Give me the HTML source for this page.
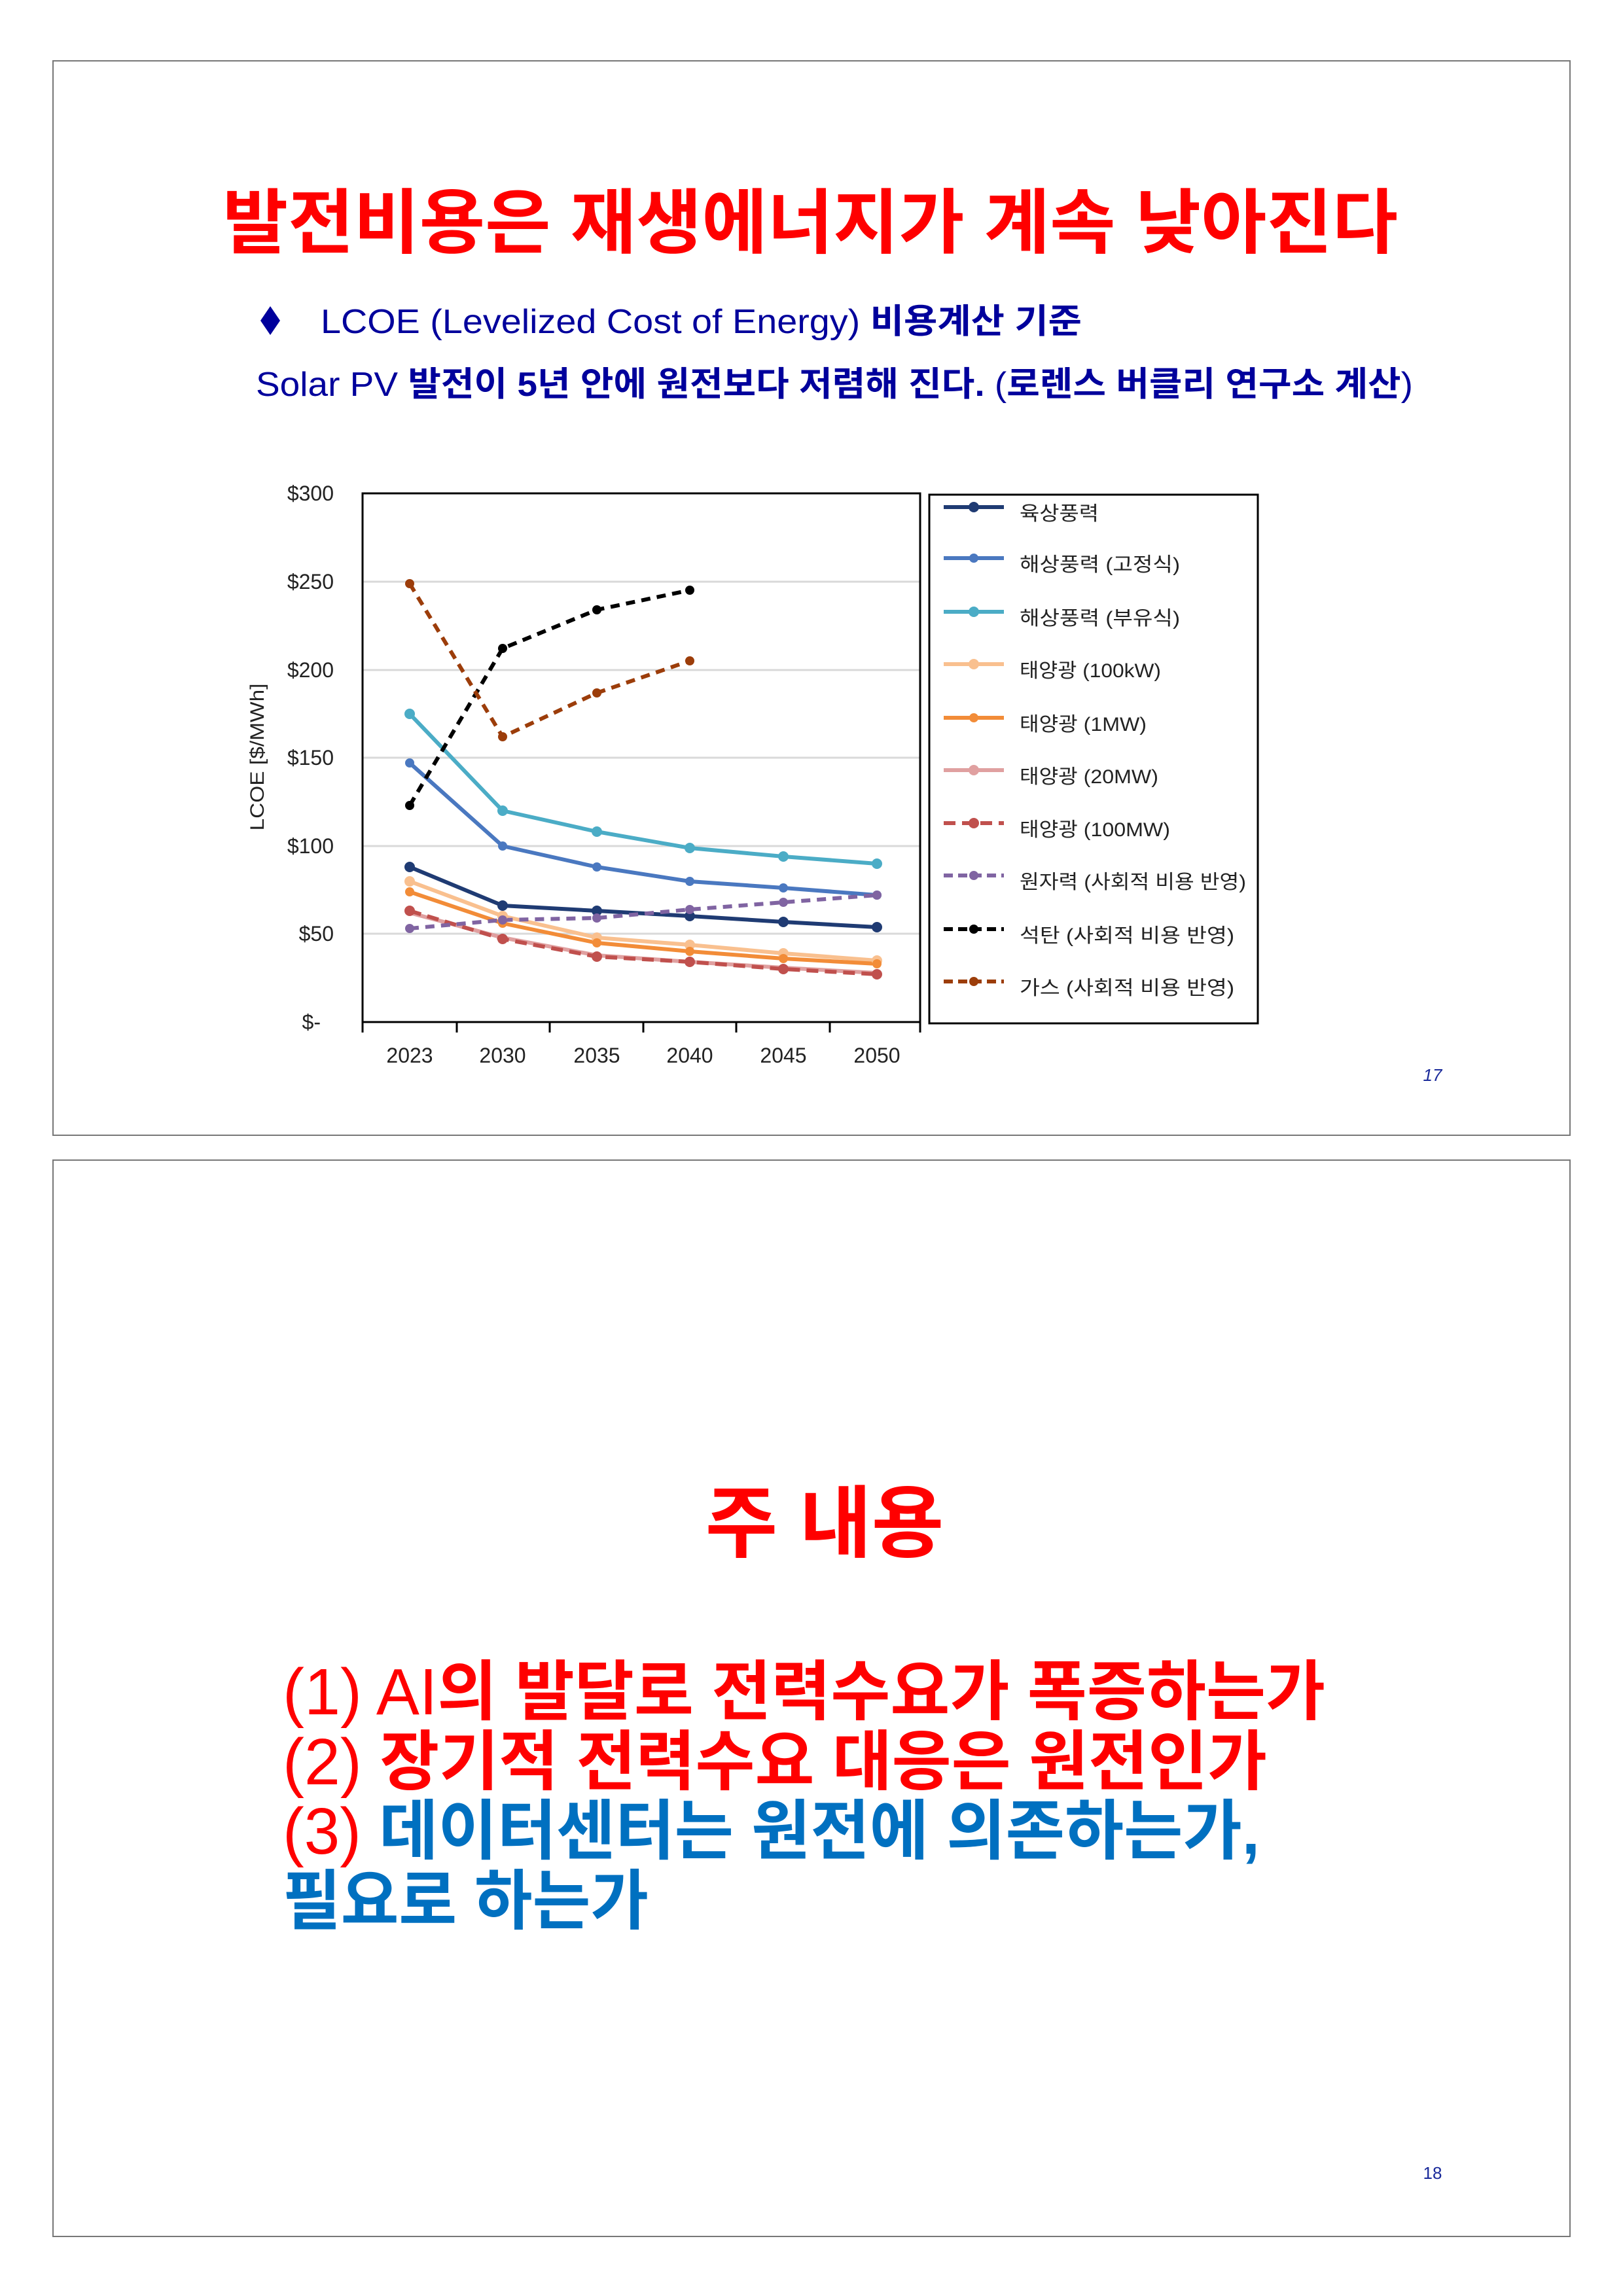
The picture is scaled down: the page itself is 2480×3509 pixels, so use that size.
<!DOCTYPE html>
<html><head><meta charset="utf-8"><style>
html,body{margin:0;padding:0;background:#fff}
svg{display:block}
text{font-family:"Liberation Sans","Noto Sans CJK KR",sans-serif}
</style></head><body>
<svg width="2480" height="3509" viewBox="0 0 2480 3509" xmlns="http://www.w3.org/2000/svg">
<rect width="2480" height="3509" fill="#fff"/>
<rect x="81" y="93" width="2318" height="1642" fill="none" stroke="#777" stroke-width="2"/>
<rect x="81" y="1773" width="2318" height="1645" fill="none" stroke="#777" stroke-width="2"/>

<text x="1238" y="378" text-anchor="middle" font-size="108" font-weight="bold" fill="#f00" textLength="1796" lengthAdjust="spacingAndGlyphs">발전비용은 재생에너지가 계속 낮아진다</text>

<polygon points="413,468 428,490 413,512 398,490" fill="#00009c"/>
<text x="490" y="509" font-size="52" fill="#00009c" textLength="1163" lengthAdjust="spacingAndGlyphs">LCOE (Levelized Cost of Energy) <tspan font-weight="bold">비용계산 기준</tspan></text>
<text x="391" y="605" font-size="52" fill="#00009c" textLength="1768" lengthAdjust="spacingAndGlyphs">Solar PV <tspan font-weight="bold">발전이 5년 안에 원전보다 저렴해 진다.</tspan> (<tspan font-weight="bold">로렌스 버클리 연구소 계산</tspan>)</text>

<!-- chart -->
<g stroke="#d9d9d9" stroke-width="3">
<line x1="554" y1="889" x2="1406" y2="889"/>
<line x1="554" y1="1024" x2="1406" y2="1024"/>
<line x1="554" y1="1158" x2="1406" y2="1158"/>
<line x1="554" y1="1293" x2="1406" y2="1293"/>
<line x1="554" y1="1427" x2="1406" y2="1427"/>
</g>
<rect x="554" y="754" width="852" height="808" fill="none" stroke="#000" stroke-width="3"/>
<g stroke="#000" stroke-width="3">
<line x1="554" y1="1562" x2="554" y2="1578"/><line x1="698" y1="1562" x2="698" y2="1578"/>
<line x1="840" y1="1562" x2="840" y2="1578"/><line x1="983" y1="1562" x2="983" y2="1578"/>
<line x1="1125" y1="1562" x2="1125" y2="1578"/><line x1="1268" y1="1562" x2="1268" y2="1578"/>
<line x1="1406" y1="1562" x2="1406" y2="1578"/>
</g>
<g font-size="32" fill="#222" text-anchor="end">
<text x="510" y="765">$300</text><text x="510" y="900">$250</text><text x="510" y="1035">$200</text>
<text x="510" y="1169">$150</text><text x="510" y="1304">$100</text><text x="510" y="1438">$50</text>
<text x="490" y="1573">$-</text>
</g>
<g font-size="32" fill="#222" text-anchor="middle">
<text x="626" y="1624">2023</text><text x="768" y="1624">2030</text><text x="912" y="1624">2035</text>
<text x="1054" y="1624">2040</text><text x="1197" y="1624">2045</text><text x="1340" y="1624">2050</text>
</g>
<text transform="translate(403,1157) rotate(-90)" font-size="30" fill="#222" text-anchor="middle" textLength="225" lengthAdjust="spacingAndGlyphs">LCOE [$/MWh]</text>

<g fill="none" stroke-width="6" stroke-linejoin="round">
<polyline stroke="#1F3B73" points="626,1325 768,1384 912,1392 1054,1400 1197,1409 1340,1417"/>
<polyline stroke="#4A78C0" points="626,1166 768,1293 912,1325 1054,1347 1197,1357 1340,1368"/>
<polyline stroke="#4BACC6" points="626,1091 768,1239 912,1271 1054,1296 1197,1309 1340,1320"/>
<polyline stroke="#F9C08F" points="626,1347 768,1400 912,1433 1054,1444 1197,1457 1340,1468"/>
<polyline stroke="#F28C38" points="626,1363 768,1411 912,1441 1054,1454 1197,1465 1340,1473"/>
<polyline stroke="#E0A0A0" points="626,1395 768,1433 912,1460 1054,1470 1197,1479 1340,1487"/>
<polyline stroke="#C0504D" stroke-dasharray="18,10" points="626,1392 768,1435 912,1462 1054,1470 1197,1481 1340,1489"/>
<polyline stroke="#8064A2" stroke-dasharray="14,10" points="626,1419 768,1406 912,1403 1054,1390 1197,1379 1340,1368"/>
<polyline stroke="#000" stroke-dasharray="14,10" points="626,1231 768,991 912,932 1054,902"/>
<polyline stroke="#9C3D0A" stroke-dasharray="14,10" points="626,892 768,1126 912,1059 1054,1010"/>
</g>
<g>
<g fill="#1F3B73"><circle cx="626" cy="1325" r="8"/><circle cx="768" cy="1384" r="8"/><circle cx="912" cy="1392" r="8"/><circle cx="1054" cy="1400" r="8"/><circle cx="1197" cy="1409" r="8"/><circle cx="1340" cy="1417" r="8"/></g>
<g fill="#4A78C0"><circle cx="626" cy="1166" r="7"/><circle cx="768" cy="1293" r="7"/><circle cx="912" cy="1325" r="7"/><circle cx="1054" cy="1347" r="7"/><circle cx="1197" cy="1357" r="7"/><circle cx="1340" cy="1368" r="7"/></g>
<g fill="#4BACC6"><circle cx="626" cy="1091" r="8"/><circle cx="768" cy="1239" r="8"/><circle cx="912" cy="1271" r="8"/><circle cx="1054" cy="1296" r="8"/><circle cx="1197" cy="1309" r="8"/><circle cx="1340" cy="1320" r="8"/></g>
<g fill="#F9C08F"><circle cx="626" cy="1347" r="8"/><circle cx="768" cy="1400" r="8"/><circle cx="912" cy="1433" r="8"/><circle cx="1054" cy="1444" r="8"/><circle cx="1197" cy="1457" r="8"/><circle cx="1340" cy="1468" r="8"/></g>
<g fill="#F28C38"><circle cx="626" cy="1363" r="7"/><circle cx="768" cy="1411" r="7"/><circle cx="912" cy="1441" r="7"/><circle cx="1054" cy="1454" r="7"/><circle cx="1197" cy="1465" r="7"/><circle cx="1340" cy="1473" r="7"/></g>
<g fill="#C0504D"><circle cx="626" cy="1392" r="8"/><circle cx="768" cy="1435" r="8"/><circle cx="912" cy="1462" r="8"/><circle cx="1054" cy="1470" r="8"/><circle cx="1197" cy="1481" r="8"/><circle cx="1340" cy="1489" r="8"/></g>
<g fill="#8064A2"><circle cx="626" cy="1419" r="7"/><circle cx="768" cy="1406" r="7"/><circle cx="912" cy="1403" r="7"/><circle cx="1054" cy="1390" r="7"/><circle cx="1197" cy="1379" r="7"/><circle cx="1340" cy="1368" r="7"/></g>
<g fill="#000"><circle cx="626" cy="1231" r="7"/><circle cx="768" cy="991" r="7"/><circle cx="912" cy="932" r="7"/><circle cx="1054" cy="902" r="7"/></g>
<g fill="#9C3D0A"><circle cx="626" cy="892" r="7"/><circle cx="768" cy="1126" r="7"/><circle cx="912" cy="1059" r="7"/><circle cx="1054" cy="1010" r="7"/></g>
</g>

<!-- legend -->
<rect x="1420" y="756" width="502" height="808" fill="none" stroke="#000" stroke-width="3"/>
<g stroke-width="6" fill="none">
<line x1="1442" y1="775" x2="1534" y2="775" stroke="#1F3B73"/>
<line x1="1442" y1="853" x2="1534" y2="853" stroke="#4A78C0"/>
<line x1="1442" y1="935" x2="1534" y2="935" stroke="#4BACC6"/>
<line x1="1442" y1="1015" x2="1534" y2="1015" stroke="#F9C08F"/>
<line x1="1442" y1="1097" x2="1534" y2="1097" stroke="#F28C38"/>
<line x1="1442" y1="1177" x2="1534" y2="1177" stroke="#E0A0A0"/>
<line x1="1442" y1="1258" x2="1534" y2="1258" stroke="#C0504D" stroke-dasharray="18,10"/>
<line x1="1442" y1="1338" x2="1534" y2="1338" stroke="#8064A2" stroke-dasharray="14,8"/>
<line x1="1442" y1="1420" x2="1534" y2="1420" stroke="#000" stroke-dasharray="14,8"/>
<line x1="1442" y1="1500" x2="1534" y2="1500" stroke="#9C3D0A" stroke-dasharray="14,8"/>
</g>
<circle cx="1488" cy="775" r="8" fill="#1F3B73"/><circle cx="1488" cy="853" r="7" fill="#4A78C0"/>
<circle cx="1488" cy="935" r="8" fill="#4BACC6"/><circle cx="1488" cy="1015" r="8" fill="#F9C08F"/>
<circle cx="1488" cy="1097" r="7" fill="#F28C38"/><circle cx="1488" cy="1177" r="8" fill="#E0A0A0"/>
<circle cx="1488" cy="1258" r="8" fill="#C0504D"/><circle cx="1488" cy="1338" r="7" fill="#8064A2"/>
<circle cx="1488" cy="1420" r="7" fill="#000"/><circle cx="1488" cy="1500" r="7" fill="#9C3D0A"/>
<g font-size="30" fill="#222">
<text x="1558" y="795" textLength="121" lengthAdjust="spacingAndGlyphs">육상풍력</text>
<text x="1558" y="873" textLength="245" lengthAdjust="spacingAndGlyphs">해상풍력 (고정식)</text>
<text x="1558" y="955" textLength="245" lengthAdjust="spacingAndGlyphs">해상풍력 (부유식)</text>
<text x="1558" y="1035" textLength="216" lengthAdjust="spacingAndGlyphs">태양광 (100kW)</text>
<text x="1558" y="1117" textLength="194" lengthAdjust="spacingAndGlyphs">태양광 (1MW)</text>
<text x="1558" y="1197" textLength="212" lengthAdjust="spacingAndGlyphs">태양광 (20MW)</text>
<text x="1558" y="1278" textLength="230" lengthAdjust="spacingAndGlyphs">태양광 (100MW)</text>
<text x="1558" y="1358" textLength="346" lengthAdjust="spacingAndGlyphs">원자력 (사회적 비용 반영)</text>
<text x="1558" y="1440" textLength="328" lengthAdjust="spacingAndGlyphs">석탄 (사회적 비용 반영)</text>
<text x="1558" y="1520" textLength="328" lengthAdjust="spacingAndGlyphs">가스 (사회적 비용 반영)</text>
</g>

<text x="2189" y="1652" font-size="26" font-style="italic" fill="#1a2a9a" text-anchor="middle">17</text>

<!-- slide 2 -->
<text x="1260" y="2370" text-anchor="middle" font-size="120" font-weight="bold" fill="#f00">주 내용</text>
<g font-size="100" font-weight="bold">
<text x="432" y="2620" fill="#f00" textLength="1593" lengthAdjust="spacingAndGlyphs"><tspan font-weight="normal">(1) AI</tspan>의 발달로 전력수요가 폭증하는가</text>
<text x="432" y="2727" fill="#f00" textLength="1504" lengthAdjust="spacingAndGlyphs"><tspan font-weight="normal">(2)</tspan> 장기적 전력수요 대응은 원전인가</text>
<text x="432" y="2833" fill="#0070C0" textLength="1493" lengthAdjust="spacingAndGlyphs"><tspan fill="#f00" font-weight="normal">(3)</tspan> 데이터센터는 원전에 의존하는가,</text>
<text x="432" y="2940" fill="#0070C0" textLength="559" lengthAdjust="spacingAndGlyphs">필요로 하는가</text>
</g>
<text x="2189" y="3330" font-size="26" fill="#1a2a9a" text-anchor="middle">18</text>
</svg>
</body></html>
